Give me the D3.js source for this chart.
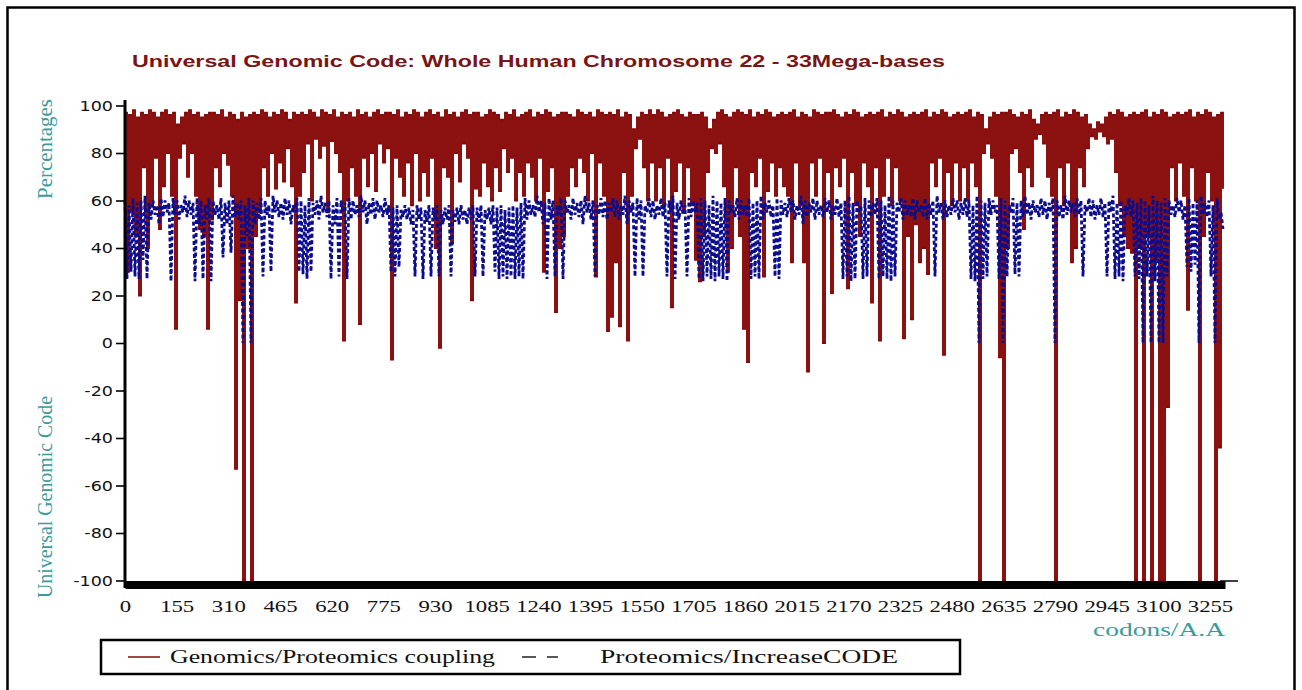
<!DOCTYPE html>
<html>
<head>
<meta charset="utf-8">
<script src="https://cdn.jsdelivr.net/npm/d3@7"></script>
<style>
  body { margin: 0; background: #fff; }
  svg { display: block; }
</style>
</head>
<body>
<svg id="chart" width="1302" height="690"></svg>
<script>
// ---- data -------------------------------------------------------------
const yTicks = [100, 80, 60, 40, 20, 0, -20, -40, -60, -80, -100];
const xTicks = [0, 155, 310, 465, 620, 775, 930, 1085, 1240, 1395, 1550, 1705,
                1860, 2015, 2170, 2325, 2480, 2635, 2790, 2945, 3100, 3255];
const codonStep = 6;   // codons between consecutive samples

// Genomics/Proteomics coupling (%), one sample every codonStep codons
const coupling = [
  97,30, 96,55, 98,45, 95,20, 97,74, 96,40, 98,58, 97,78, 95,48, 97,66, 98,80,
  96,62, 97,6, 92,78, 95,84, 97,70, 98,80, 96,62, 97,48, 95,45, 96,6, 97,52,
  97,74, 96,66, 98,80, 95,75, 97,62, 96,-53, 94,18, 97,-100, 95,40, 96,-100, 97,45,
  96,55, 98,74, 97,62, 95,80, 97,65, 96,76, 98,68, 97,82, 94,66, 97,17, 96,62,
  97,72, 96,84, 98,60, 97,86, 95,78, 98,83, 97,55, 96,85, 98,80, 95,72, 97,1,
  96,60, 97,74, 95,62, 98,8, 96,78, 97,66, 95,80, 97,64, 98,84, 96,76, 97,82,
  97,-7, 96,78, 98,70, 95,62, 97,76, 96,58, 98,80, 97,60, 95,72, 97,62, 98,78,
  96,40, 97,-2, 95,74, 98,70, 96,42, 97,80, 95,68, 97,84, 98,78, 96,18, 97,65,
  97,62, 95,76, 96,66, 98,60, 97,74, 96,64, 94,82, 97,72, 96,78, 98,60, 95,72,
  96,62, 97,76, 98,70, 95,60, 97,78, 96,30, 98,64, 97,74, 95,13, 96,40, 97,45,
  97,62, 96,74, 95,66, 98,78, 97,72, 96,60, 97,80, 95,28, 98,76, 97,62, 96,5,
  97,11, 96,34, 98,7, 95,72, 97,1, 96,62, 90,82, 95,86, 97,74, 96,60, 98,76,
  96,60, 98,74, 97,58, 95,78, 96,15, 97,64, 98,76, 96,55, 95,74, 97,58, 96,35,
  96,26, 97,45, 95,72, 90,82, 94,80, 97,84, 98,66, 96,30, 95,40, 97,74, 98,45,
  97,6, 96,-8, 98,72, 95,66, 97,78, 96,28, 98,64, 97,76, 95,62, 96,74, 97,66,
  96,62, 97,34, 98,76, 95,58, 97,34, 96,-12, 95,76, 98,62, 97,78, 96,0, 97,72,
  97,21, 98,74, 96,66, 95,78, 97,23, 96,72, 98,58, 97,45, 95,76, 96,66, 97,17,
  96,74, 97,1, 98,62, 95,78, 97,58, 96,74, 98,60, 97,2, 95,45, 96,10, 97,50,
  96,34, 97,40, 98,29, 95,76, 97,66, 96,78, 98,-5, 97,72, 95,58, 96,76, 97,60,
  96,74, 97,60, 98,76, 95,66, 97,-100, 96,80, 90,84, 95,78, 97,62, 96,-6, 97,-100,
  97,40, 98,80, 96,82, 95,72, 97,48, 96,74, 98,66, 94,86, 92,88, 96,84, 97,70,
  96,62, 97,-100, 98,74, 95,58, 97,76, 96,34, 98,40, 97,74, 95,66, 96,82, 92,87,
  90,86, 93,89, 92,87, 95,84, 97,86, 96,72, 98,58, 97,45, 95,40, 96,38, 97,-100,
  96,40, 97,-100, 98,45, 95,-100, 97,35, 96,-100, 98,-100, 97,-27, 95,74, 96,60, 97,76,
  96,62, 97,14, 98,74, 95,60, 97,-100, 96,45, 98,72, 97,60, 95,-100, 96,-44, 97,65
];

// Proteomics/IncreaseCODE (%), same sampling
const increaseCode = [
  60,27, 58,30, 61,28, 59,27, 60,35, 62,27, 59,52, 60,54, 58,50, 61,53, 60,55,
  59,26, 61,54, 60,52, 58,55, 62,53, 60,54, 59,26, 61,50, 60,27, 58,52, 61,26,
  60,54, 58,52, 61,36, 59,50, 60,38, 62,53, 59,52, 60,0, 58,45, 61,0, 60,50,
  59,52, 61,28, 60,54, 58,30, 62,55, 60,53, 59,52, 61,54, 60,50, 58,55, 61,30,
  60,29, 58,27, 61,30, 59,54, 60,52, 62,55, 59,53, 60,27, 58,50, 61,28, 60,55,
  59,27, 61,52, 60,54, 58,53, 62,55, 60,50, 59,54, 61,52, 60,55, 58,53, 61,54,
  58,30, 57,28, 58,32, 56,53, 58,52, 57,50, 56,28, 58,52, 57,27, 56,51, 58,28,
  57,52, 58,28, 56,50, 57,52, 58,28, 56,51, 57,50, 58,52, 56,50, 57,52, 58,28,
  57,51, 58,28, 56,52, 57,50, 58,30, 57,27, 58,28, 56,27, 57,28, 58,27, 57,28,
  59,27, 61,52, 60,54, 58,53, 62,55, 60,50, 59,27, 61,52, 60,28, 58,54, 61,27,
  60,55, 58,52, 61,54, 59,53, 60,50, 62,55, 59,52, 60,28, 58,54, 61,53, 60,52,
  59,55, 61,53, 60,52, 58,54, 62,50, 60,55, 59,28, 61,52, 60,28, 58,55, 61,53,
  60,52, 58,54, 61,53, 59,28, 60,55, 62,27, 59,52, 60,54, 58,28, 61,53, 60,55,
  59,27, 61,26, 60,28, 58,27, 62,26, 60,28, 59,27, 61,26, 60,55, 58,53, 61,52,
  60,54, 58,53, 61,27, 59,28, 60,27, 62,52, 59,55, 60,53, 58,28, 61,27, 60,54,
  59,53, 61,55, 60,52, 58,54, 62,50, 60,53, 59,55, 61,52, 60,54, 58,53, 61,55,
  60,52, 58,54, 61,53, 59,27, 60,28, 62,26, 59,27, 60,55, 58,27, 61,28, 60,53,
  59,54, 61,27, 60,28, 58,27, 62,26, 60,28, 59,55, 61,52, 60,54, 58,53, 61,52,
  60,55, 58,53, 61,52, 59,54, 60,28, 62,55, 59,52, 60,53, 58,54, 61,55, 60,52,
  59,54, 61,53, 60,27, 58,26, 62,0, 60,27, 59,28, 61,54, 60,55, 58,27, 61,0,
  60,28, 58,55, 61,29, 59,28, 60,53, 62,54, 59,52, 60,55, 58,53, 61,54, 60,52,
  59,55, 61,0, 60,53, 58,52, 62,54, 60,55, 59,53, 61,54, 60,28, 58,55, 61,53,
  60,52, 58,54, 61,53, 59,28, 60,55, 62,27, 59,28, 60,26, 58,54, 61,53, 60,28,
  59,27, 61,0, 60,28, 58,0, 62,26, 60,0, 59,0, 61,28, 60,54, 58,53, 61,55,
  60,52, 58,32, 61,30, 59,33, 60,0, 62,54, 59,53, 60,28, 58,0, 61,52, 55,48
];

const seriesNames = ["Genomics/Proteomics coupling", "Proteomics/IncreaseCODE"];

// ---- drawing ----------------------------------------------------------
const RED = "#860606", BLUE = "#0c0c8e", TEAL = "#3b9a9a";
const svg = d3.select("#chart");
const plain = d => String(d);   // "-20" with an ASCII hyphen, no thousands separator

// outer frame
svg.append("rect").attr("x", 7.5).attr("y", 7.5).attr("width", 1287).attr("height", 720)
  .attr("fill", "none").attr("stroke", "#000").attr("stroke-width", 2.5);

const x = d3.scaleLinear().domain([0, 3300]).range([125, 1225]);
const y = d3.scaleLinear().domain([-100, 100]).range([580.5, 105.5]);

// title
svg.append("text").attr("x", 132).attr("y", 67)
  .attr("textLength", 813).attr("lengthAdjust", "spacingAndGlyphs")
  .style("font-family", "'Liberation Sans', Arial, sans-serif")
  .style("font-weight", "bold").style("font-size", "16.5px").attr("fill", "#7a1414")
  .text("Universal Genomic Code: Whole Human Chromosome 22 - 33Mega-bases");

// series: the coupling trace is drawn as a step trace so each sample is a vertical stroke
const stepLine = d3.line().curve(d3.curveStepAfter).x((d, i) => x(i * codonStep)).y(d => y(d));
const line = d3.line().x((d, i) => x(i * codonStep)).y(d => y(d));
svg.append("path").datum(coupling).attr("d", stepLine)
  .attr("fill", "none").attr("stroke", RED).attr("stroke-width", 1.9);
svg.append("path").datum(increaseCode).attr("d", line)
  .attr("fill", "none").attr("stroke", BLUE).attr("stroke-width", 2.8)
  .attr("stroke-linejoin", "miter").attr("stroke-miterlimit", 1.5)
  .attr("stroke-dasharray", "4,2.5");

// y axis
const yAxis = svg.append("g").attr("transform", "translate(125,0)")
  .call(d3.axisLeft(y).tickValues(yTicks).tickFormat(plain).tickSize(9).tickSizeOuter(0));
yAxis.select(".domain").remove();
yAxis.selectAll(".tick line").attr("stroke", "#000").attr("stroke-width", 1.6);
yAxis.selectAll(".tick text")
  .attr("x", 0).attr("dy", "0.36em")
  .attr("transform", "translate(-12,0) scale(1.3,1)")
  .style("font-family", "'DejaVu Sans', Verdana, sans-serif").style("font-size", "13.5px")
  .attr("fill", "#111");
svg.append("line").attr("x1", 125).attr("x2", 125).attr("y1", 100).attr("y2", 588)
  .attr("stroke", "#000").attr("stroke-width", 3);

// x axis: heavy baseline bar at -100
const xAxis = svg.append("g").attr("transform", `translate(0,${y(-100) + 4})`)
  .call(d3.axisBottom(x).tickValues(xTicks).tickFormat(plain).tickSize(0).tickSizeOuter(0));
xAxis.select(".domain").attr("stroke", "#000").attr("stroke-width", 8);
xAxis.selectAll(".tick text")
  .attr("y", 0).attr("dy", 0)
  .attr("transform", "translate(0,27) scale(1.42,1)")
  .style("font-family", "'Liberation Serif', 'Times New Roman', serif").style("font-size", "16px")
  .attr("fill", "#111");
svg.append("line").attr("x1", 1220).attr("x2", 1238).attr("y1", y(-100) + 0.5).attr("y2", y(-100) + 0.5)
  .attr("stroke", "#000").attr("stroke-width", 1.5);

// axis titles
const serif = "'Liberation Serif', 'Times New Roman', serif";
svg.append("text").attr("transform", "translate(52,149) rotate(-90)")
  .attr("text-anchor", "middle").attr("textLength", 100).attr("lengthAdjust", "spacingAndGlyphs")
  .style("font-family", serif).style("font-size", "20px").attr("fill", TEAL).text("Percentages");
svg.append("text").attr("transform", "translate(52,497) rotate(-90)")
  .attr("text-anchor", "middle").attr("textLength", 202).attr("lengthAdjust", "spacingAndGlyphs")
  .style("font-family", serif).style("font-size", "20px").attr("fill", TEAL).text("Universal Genomic Code");
svg.append("text").attr("x", 1093).attr("y", 636)
  .attr("textLength", 132).attr("lengthAdjust", "spacingAndGlyphs")
  .style("font-family", serif).style("font-size", "18px").attr("fill", TEAL).text("codons/A.A");

// legend
const lg = svg.append("g");
lg.append("rect").attr("x", 101).attr("y", 640).attr("width", 859).attr("height", 34)
  .attr("fill", "#fff").attr("stroke", "#000").attr("stroke-width", 2.5);
lg.append("line").attr("x1", 128).attr("x2", 160).attr("y1", 657).attr("y2", 657)
  .attr("stroke", RED).attr("stroke-width", 1.5);
lg.append("text").attr("x", 170).attr("y", 663)
  .attr("textLength", 325).attr("lengthAdjust", "spacingAndGlyphs")
  .style("font-family", serif).style("font-size", "18px").attr("fill", "#111").text(seriesNames[0]);
lg.append("line").attr("x1", 522).attr("x2", 558).attr("y1", 657).attr("y2", 657)
  .attr("stroke", "#222").attr("stroke-width", 1.5).attr("stroke-dasharray", "14,11");
lg.append("text").attr("x", 600).attr("y", 663)
  .attr("textLength", 298).attr("lengthAdjust", "spacingAndGlyphs")
  .style("font-family", serif).style("font-size", "18px").attr("fill", "#111").text(seriesNames[1]);
</script>
</body>
</html>
